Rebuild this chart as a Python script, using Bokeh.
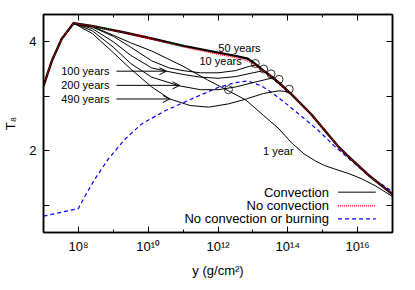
import numpy as np
from bokeh.plotting import figure
from bokeh.models import FixedTicker, LogAxis, LinearAxis, Arrow, OpenHead, Range1d
from bokeh.core.properties import value
from bokeh.embed import file_html
from bokeh.resources import INLINE

# ---- data (log10 of column depth y in g/cm^2, and T8) ----
noconv_logy = [7.0, 7.24, 7.52, 7.86, 8.38, 9.32, 10.09, 11.04, 12.0, 12.5, 12.8, 13.0, 13.3, 13.6, 14.1, 14.67, 15.47, 15.71, 16.3, 17.0]
noconv_T = [3.19, 3.65, 4.05, 4.34, 4.29, 4.17, 4.05, 3.90, 3.77, 3.71, 3.66, 3.60, 3.47, 3.33, 3.04, 2.67, 2.06, 1.91, 1.56, 1.20]

c50_logy = [7.0, 7.24, 7.52, 7.86, 8.38, 9.32, 10.09, 11.04, 12.0, 12.5, 12.85, 13.05, 13.3, 13.6, 14.1, 14.67, 15.47, 15.71, 16.3, 17.0]
c50_T = [3.19, 3.65, 4.05, 4.34, 4.29, 4.17, 4.06, 3.92, 3.80, 3.74, 3.69, 3.60, 3.47, 3.33, 3.04, 2.67, 2.06, 1.91, 1.56, 1.20]

c1_logy = [7.0, 7.24, 7.52, 7.86, 8.4, 9.0, 9.5, 10.1, 11.0, 11.7, 12.3, 12.8, 13.3, 13.75, 14.1, 14.47, 14.8, 15.05, 15.32, 15.75, 16.1, 16.5, 17.0]
c1_T = [3.19, 3.65, 4.05, 4.34, 4.28, 4.12, 3.98, 3.83, 3.55, 3.30, 3.10, 2.93, 2.65, 2.40, 2.15, 1.94, 1.81, 1.73, 1.67, 1.58, 1.49, 1.36, 1.16]

c10_logy = [7.0, 7.24, 7.52, 7.86, 8.4, 9.0, 9.5, 10.1, 10.6, 11.0, 11.5, 12.0, 12.5, 12.9, 13.07, 13.3, 13.6, 14.1, 14.67, 15.47, 15.71, 16.3, 17.0]
c10_T = [3.19, 3.65, 4.05, 4.34, 4.27, 4.10, 3.90, 3.65, 3.52, 3.47, 3.43, 3.43, 3.47, 3.55, 3.57, 3.47, 3.33, 3.04, 2.67, 2.06, 1.91, 1.56, 1.20]

c100_logy = [7.0, 7.24, 7.52, 7.86, 8.4, 9.0, 9.5, 10.1, 10.52, 11.0, 11.5, 12.0, 12.5, 13.0, 13.31, 13.6, 14.1, 14.67, 15.47, 15.71, 16.3, 17.0]
c100_T = [3.19, 3.65, 4.05, 4.34, 4.24, 4.00, 3.75, 3.52, 3.46, 3.40, 3.35, 3.33, 3.36, 3.43, 3.47, 3.33, 3.04, 2.67, 2.06, 1.91, 1.56, 1.20]

c200_logy = [7.0, 7.24, 7.52, 7.86, 8.4, 9.0, 9.5, 10.1, 10.9, 11.5, 12.0, 12.5, 13.0, 13.52, 13.75, 14.1, 14.67, 15.47, 15.71, 16.3, 17.0]
c200_T = [3.19, 3.65, 4.05, 4.34, 4.20, 3.90, 3.60, 3.35, 3.19, 3.12, 3.12, 3.17, 3.25, 3.33, 3.27, 3.04, 2.67, 2.06, 1.91, 1.56, 1.20]

c490_logy = [7.0, 7.24, 7.52, 7.86, 8.4, 9.0, 9.5, 10.1, 10.62, 11.2, 11.73, 12.3, 12.81, 13.3, 13.75, 14.04, 14.67, 15.47, 15.71, 16.3, 17.0]
c490_T = [3.19, 3.65, 4.05, 4.34, 4.15, 3.80, 3.50, 3.17, 2.95, 2.83, 2.80, 2.86, 2.95, 3.05, 3.10, 3.08, 2.67, 2.06, 1.91, 1.56, 1.20]

noburn_logy = [7.0, 8.0, 8.19, 8.47, 8.86, 9.33, 9.81, 10.47, 11.24, 12.0, 12.5, 12.86, 13.24, 13.52, 13.9, 14.38, 14.86, 15.33, 15.71, 16.3, 17.0]
noburn_T = [0.80, 0.94, 1.17, 1.48, 1.85, 2.21, 2.49, 2.73, 2.95, 3.16, 3.25, 3.28, 3.19, 3.08, 2.89, 2.64, 2.38, 2.09, 1.88, 1.55, 1.25]

# base of convection zone for each run
circle_logy = [12.3, 13.07, 13.31, 13.52, 13.75, 14.04]
circle_T = [3.12, 3.60, 3.50, 3.41, 3.31, 3.13]

# arrow labels
arrow_labels = ["100 years", "200 years", "490 years"]
arrow_T = [3.46, 3.20, 2.95]
arrow_tail_logy = [9.09, 9.09, 9.09]
arrow_head_logy = [10.52, 10.90, 10.62]

# other curve labels
curve_labels = ["50 years", "10 years", "1 year"]
curve_label_logy = [12.01, 11.47, 13.29]
curve_label_T = [3.88, 3.64, 2.0]

x_ticks = [1e8, 1e10, 1e12, 1e14, 1e16]
x_tick_labels = ["10\u2078", "10\u00b9\u2070", "10\u00b9\u00b2", "10\u00b9\u2074", "10\u00b9\u2076"]
x_minor = [1e7, 1e9, 1e11, 1e13, 1e15, 1e17]
y_ticks = [2, 4]
y_minor = [1, 3]

legend_labels = ["Convection", "No convection", "No convection or burning"]

FONT = "Liberation Sans"

def X(arr):
    return [10.0 ** v for v in arr]

p = figure(frame_width=349, frame_height=218, x_axis_type="log",
           x_range=Range1d(1e7, 1e17), y_range=Range1d(0.5, 4.5),
           output_backend="svg", toolbar_location=None,
           min_border_left=34, min_border_right=16, min_border_top=14, min_border_bottom=42)
p.grid.visible = False
p.outline_line_color = "black"
p.outline_line_width = 1.5
p.background_fill_color = "white"
p.border_fill_color = "white"

xt = FixedTicker(ticks=x_ticks, minor_ticks=x_minor)
yt = FixedTicker(ticks=y_ticks, minor_ticks=y_minor)

xa = p.xaxis[0]
xa.ticker = xt
xa.major_label_overrides = {t: l for t, l in zip(x_ticks, x_tick_labels)}
xa.axis_label = "y (g/cm\u00b2)"
ya = p.yaxis[0]
ya.ticker = yt
ya.axis_label = "T\u2088"

for ax in (xa, ya):
    ax.axis_line_color = "black"
    ax.axis_line_width = 1.5
    ax.major_tick_in = 6
    ax.major_tick_out = 0
    ax.major_label_text_font = FONT
    ax.major_label_text_font_size = "13px"
    ax.major_label_text_color = "black"
    ax.axis_label_text_font = FONT
    ax.axis_label_text_font_size = "13px"
    ax.axis_label_text_font_style = "normal"
    ax.axis_label_text_color = "black"
xa.minor_tick_in = 3
xa.minor_tick_out = 0
ya.minor_tick_in = 6
ya.minor_tick_out = 0
xa.major_label_standoff = 6
xa.axis_label_standoff = 6
ya.major_label_standoff = 7
ya.axis_label_standoff = 8

top = LogAxis(ticker=FixedTicker(ticks=x_ticks, minor_ticks=x_minor),
              major_label_overrides={t: "" for t in x_ticks})
right = LinearAxis(ticker=FixedTicker(ticks=y_ticks, minor_ticks=y_minor),
                   major_label_overrides={t: "" for t in y_ticks})
for ax, mn in ((top, 3), (right, 6)):
    ax.major_tick_in = 6
    ax.major_tick_out = 0
    ax.minor_tick_in = mn
    ax.minor_tick_out = 0
    ax.major_label_standoff = 0
    ax.axis_line_color = "black"
    ax.axis_line_width = 1.5
p.add_layout(top, "above")
p.add_layout(right, "right")

# curves
p.line(X(noburn_logy), noburn_T, line_color="#0000ff", line_width=1.2, line_dash="4 3")
for lx, ly in ((c1_logy, c1_T), (c10_logy, c10_T), (c100_logy, c100_T), (c200_logy, c200_T), (c490_logy, c490_T)):
    p.line(X(lx), ly, line_color="black", line_width=1)
p.line(X(c50_logy), c50_T, line_color="black", line_width=2.4)
p.line(X(noconv_logy), noconv_T, line_color="#ff0000", line_width=1.2, line_dash="1 1")
p.scatter(X(circle_logy), circle_T, marker="circle", size=8, fill_color=None,
          line_color="black", line_width=0.8)

# arrows and labels
for lab, t, xs, xe in zip(arrow_labels, arrow_T, arrow_tail_logy, arrow_head_logy):
    p.add_layout(Arrow(end=OpenHead(size=7, line_width=1, line_color="black"),
                       x_start=10 ** xs, y_start=t, x_end=10 ** xe, y_end=t,
                       line_color="black", line_width=1))
p.text(x=[10 ** (v - 0.2) for v in arrow_tail_logy], y=arrow_T, text=arrow_labels,
       text_align="right", text_baseline="middle", text_font=value(FONT),
       text_font_size="11px", text_color="black")
p.text(x=X(curve_label_logy), y=curve_label_T, text=curve_labels,
       text_align="left", text_baseline="middle", text_font=value(FONT),
       text_font_size="11px", text_color="black")

# legend (label left, sample right)
leg_T = [1.24, 0.99, 0.75]
p.text(x=[10 ** 15.18] * 3, y=leg_T, text=legend_labels, text_align="right",
       text_baseline="middle", text_font=value(FONT), text_font_size="13px", text_color="black")
p.segment(x0=[10 ** 15.44], y0=[leg_T[0]], x1=[10 ** 16.52], y1=[leg_T[0]], line_color="black", line_width=1)
p.segment(x0=[10 ** 15.44], y0=[leg_T[1]], x1=[10 ** 16.52], y1=[leg_T[1]], line_color="#ff0000", line_width=1.2, line_dash="1 1")
p.segment(x0=[10 ** 15.44], y0=[leg_T[2]], x1=[10 ** 16.52], y1=[leg_T[2]], line_color="#0000ff", line_width=1.2, line_dash="4 3")

open("out.html", "w").write(file_html(p, INLINE))
